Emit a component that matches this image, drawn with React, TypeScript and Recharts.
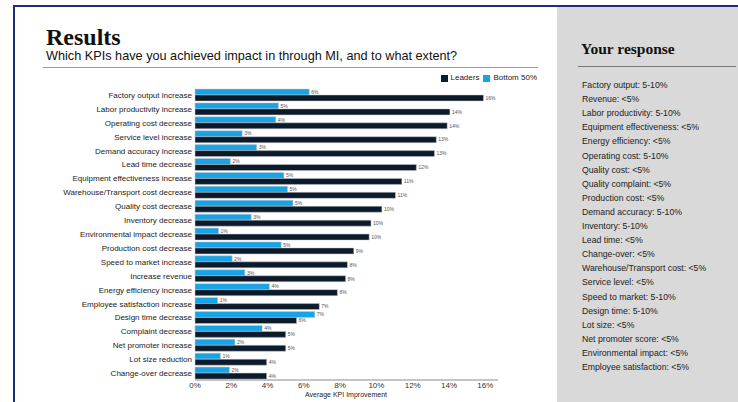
import React from 'react';
import { BarChart, Bar, XAxis, YAxis, LabelList } from 'recharts';

const categories = [
  'Factory output increase',
  'Labor productivity increase',
  'Operating cost decrease',
  'Service level increase',
  'Demand accuracy increase',
  'Lead time decrease',
  'Equipment effectiveness increase',
  'Warehouse/Transport cost decrease',
  'Quality cost decrease',
  'Inventory decrease',
  'Environmental impact decrease',
  'Production cost decrease',
  'Speed to market increase',
  'Increase revenue',
  'Energy efficiency increase',
  'Employee satisfaction increase',
  'Design time decrease',
  'Complaint decrease',
  'Net promoter increase',
  'Lot size reduction',
  'Change-over decrease',
];

const leaders = [15.9, 14.05, 13.9, 13.3, 13.2, 12.2, 11.4, 11.05, 10.3, 9.7, 9.6, 8.75, 8.4, 8.3, 7.85, 6.85, 5.6, 5.0, 5.0, 3.95, 3.95];
const bottom50 = [6.3, 4.6, 4.45, 2.6, 3.4, 1.95, 4.9, 5.1, 5.4, 3.1, 1.3, 4.75, 2.05, 2.75, 4.1, 1.25, 6.6, 3.7, 2.2, 1.4, 1.9];

const xTicks = [0, 2, 4, 6, 8, 10, 12, 14, 16];

const responses = [
  'Factory output: 5-10%',
  'Revenue: <5%',
  'Labor productivity: 5-10%',
  'Equipment effectiveness: <5%',
  'Energy efficiency: <5%',
  'Operating cost: 5-10%',
  'Quality cost: <5%',
  'Quality complaint: <5%',
  'Production cost: <5%',
  'Demand accuracy: 5-10%',
  'Inventory: 5-10%',
  'Lead time: <5%',
  'Change-over: <5%',
  'Warehouse/Transport cost: <5%',
  'Service level: <5%',
  'Speed to market: 5-10%',
  'Design time: 5-10%',
  'Lot size: <5%',
  'Net promoter score: <5%',
  'Environmental impact: <5%',
  'Employee satisfaction: <5%',
];

const LEADER_COLOR = '#0c1b2b';
const BOTTOM_COLOR = '#17a3e6';
const SANS = '"Liberation Sans", Arial, sans-serif';
const SERIF = '"Liberation Serif", "Times New Roman", serif';

const data = categories.map((name, i) => ({ name, leaders: leaders[i], bottom: bottom50[i] }));

const legendItems = [
  { label: 'Leaders', color: LEADER_COLOR },
  { label: 'Bottom 50%', color: BOTTOM_COLOR },
];

const pct = (v: any) => `${Math.round(Number(v))}%`;

const YTick = (props: any) => {
  const { x, y, payload } = props;
  return (
    <text x={x} y={y} dy={3} textAnchor="end" fontFamily={SANS} fontSize={8} fill="#222">
      {payload.value}
    </text>
  );
};

export default function App() {
  return (
    <div style={{ position: 'absolute', left: 0, top: 0, width: 738, height: 402, background: '#fff', overflow: 'hidden' }}>
      <div style={{ position: 'absolute', left: 557, top: 7, width: 181, height: 395, background: '#d9d9d9' }} />
      <div style={{ position: 'absolute', left: 13, top: 5, width: 725, height: 2, background: '#1d2f7c' }} />
      <div style={{ position: 'absolute', left: 13, top: 5, width: 2, height: 397, background: '#1d2f7c' }} />

      <div style={{ position: 'absolute', left: 0, top: 0 }}>
        <BarChart
          width={557}
          height={402}
          data={data}
          layout="vertical"
          margin={{ top: 88, right: 59, bottom: 0, left: 0 }}
          barGap={0}
          barSize={6}
        >
          <XAxis
            type="number"
            domain={[0, 16.7]}
            ticks={xTicks}
            tickFormatter={(v) => `${v}%`}
            height={22}
            tickLine={false}
            tickSize={0}
            axisLine={{ stroke: '#8a8a8a' }}
            tick={{ fontSize: 8, fill: '#333', fontFamily: SANS }}
            tickMargin={2}
            interval={0}
          />
          <YAxis
            type="category"
            dataKey="name"
            width={195}
            tickLine={false}
            axisLine={false}
            tickSize={0}
            tickMargin={3}
            interval={0}
            tick={<YTick />}
          />
          <Bar dataKey="bottom" name="Bottom 50%" fill={BOTTOM_COLOR} stroke="#c9c9c9" strokeWidth={0.5} isAnimationActive={false}>
            <LabelList dataKey="bottom" position="right" offset={2} formatter={pct} style={{ fontSize: 5, fill: '#555', fontFamily: SANS }} />
          </Bar>
          <Bar dataKey="leaders" name="Leaders" fill={LEADER_COLOR} stroke="#c9c9c9" strokeWidth={0.5} isAnimationActive={false}>
            <LabelList dataKey="leaders" position="right" offset={2} formatter={pct} style={{ fontSize: 5, fill: '#555', fontFamily: SANS }} />
          </Bar>
        </BarChart>
      </div>

      <div style={{ position: 'absolute', left: 400, top: 73, width: 137, display: 'flex', justifyContent: 'flex-end', alignItems: 'center', fontFamily: SANS, fontSize: 8, color: '#222', lineHeight: '10px' }}>
        {legendItems.map((it) => (
          <div key={it.label} style={{ display: 'flex', alignItems: 'center', marginLeft: 4 }}>
            <span style={{ display: 'inline-block', width: 7, height: 7, background: it.color, marginRight: 3 }} />
            <span>{it.label}</span>
          </div>
        ))}
      </div>

      <svg width={738} height={402} style={{ position: 'absolute', left: 0, top: 0, pointerEvents: 'none' }}>
        <text x={46} y={45} fontFamily={SERIF} fontWeight="bold" fontSize={24} fill="#111">Results</text>
        <text x={46} y={60} fontFamily={SANS} fontSize={12.7} fill="#111">Which KPIs have you achieved impact in through MI, and to what extent?</text>
        <line x1={43} x2={538} y1={67.5} y2={67.5} stroke="#999" strokeWidth={1} />
        <text x={346} y={397} textAnchor="middle" fontFamily={SANS} fontSize={7} fill="#222">Average KPI Improvement</text>
        <text x={581} y={54} fontFamily={SERIF} fontWeight="bold" fontSize={15.5} fill="#111">Your response</text>
        <line x1={578} x2={736} y1={66.5} y2={66.5} stroke="#777" strokeWidth={1} />
        {responses.map((r, i) => (
          <text key={r} x={582} y={88 + i * 14.1} fontFamily={SANS} fontSize={8.7} fill="#222">{r}</text>
        ))}
      </svg>
    </div>
  );
}
